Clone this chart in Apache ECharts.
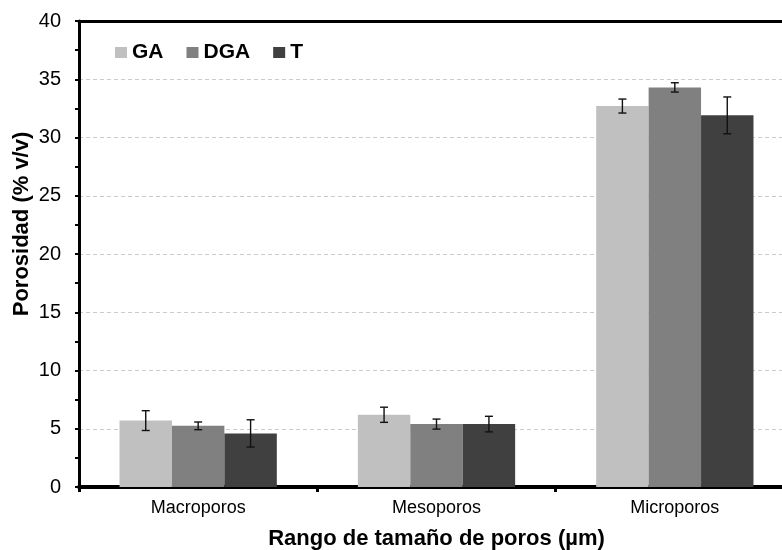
<!DOCTYPE html>
<html>
<head>
<meta charset="utf-8">
<script src="https://cdn.jsdelivr.net/npm/echarts@6/dist/echarts.min.js"></script>
<style>
  html, body { margin: 0; padding: 0; background: #fff; overflow: hidden; }
  #chart { width: 800px; height: 550px; }
</style>
</head>
<body>
<div id="chart"></div>
<script>
  // datos
  var categories = ['Macroporos', 'Mesoporos', 'Microporos'];
  var seriesNames = ['GA', 'DGA', 'T'];
  var gaValues = [5.7, 6.2, 32.7];
  var dgaValues = [5.25, 5.4, 34.3];
  var tValues = [4.6, 5.4, 31.9];
  var gaErrors = [0.85, 0.65, 0.6];
  var dgaErrors = [0.33, 0.43, 0.4];
  var tErrors = [1.17, 0.67, 1.58];
  var yTicks = [0, 5, 10, 15, 20, 25, 30, 35, 40];

  var colors = ['#c0c0c0', '#808080', '#404040'];
  var font = '"Liberation Sans", Arial, sans-serif';
  var allValues = [gaValues, dgaValues, tValues];
  var allErrors = [gaErrors, dgaErrors, tErrors];

  var chart = echarts.init(document.getElementById('chart'));

  function errorBarItem(params, api) {
    var cat = api.value(0), val = api.value(1), err = api.value(2), s = api.value(3);
    var cw = api.size([1, 0])[0];
    var bw = cw * 0.22;
    var x = api.coord([cat, val])[0] + (s - 1) * bw;
    var hi = api.coord([cat, val + err])[1];
    var lo = api.coord([cat, val - err])[1];
    var style = { stroke: '#111', lineWidth: 1.4 };
    return {
      type: 'group',
      children: [
        { type: 'line', shape: { x1: x, y1: hi, x2: x, y2: lo }, style: style },
        { type: 'line', shape: { x1: x - 4, y1: hi, x2: x + 4, y2: hi }, style: style },
        { type: 'line', shape: { x1: x - 4, y1: lo, x2: x + 4, y2: lo }, style: style }
      ]
    };
  }

  var series = [];
  seriesNames.forEach(function (name, s) {
    series.push({
      name: name,
      type: 'bar',
      barGap: '0%',
      barCategoryGap: '34%',
      itemStyle: { color: colors[s] },
      data: allValues[s]
    });
  });
  seriesNames.forEach(function (name, s) {
    series.push({
      name: name + ' error',
      type: 'custom',
      renderItem: errorBarItem,
      z: 5,
      data: categories.map(function (c, i) {
        return [i, allValues[s][i], allErrors[s][i], s];
      })
    });
  });

  chart.setOption({
    animation: false,
    textStyle: { fontFamily: font },
    grid: {
      left: 79, top: 21, right: 6, bottom: 63,
      containLabel: false, outerBoundsMode: 'none'
    },
    legend: {
      data: seriesNames,
      left: 115, top: 42,
      padding: 0,
      icon: 'rect',
      itemWidth: 12, itemHeight: 11, itemGap: 23,
      textStyle: { fontFamily: font, fontSize: 21, fontWeight: 'bold', color: '#000' }
    },
    xAxis: [{
      type: 'category',
      data: categories,
      name: 'Rango de tamaño de poros (µm)',
      nameLocation: 'middle',
      nameGap: 41,
      nameMoveOverlap: false,
      nameTextStyle: { fontFamily: font, fontSize: 22, fontWeight: 'bold', color: '#000' },
      axisLine: { lineStyle: { color: '#000', width: 4 } },
      axisTick: { show: true, length: 5, lineStyle: { color: '#000', width: 3 } },
      axisLabel: { fontFamily: font, fontSize: 18, color: '#000', margin: 12 }
    }, {
      // linea superior del marco
      type: 'category',
      data: categories,
      position: 'top',
      axisLine: { show: true, lineStyle: { color: '#000', width: 3 } },
      axisTick: { show: false },
      axisLabel: { show: false },
      splitLine: { show: false }
    }],
    yAxis: {
      type: 'value',
      min: yTicks[0], max: yTicks[yTicks.length - 1], interval: 5,
      name: 'Porosidad (% v/v)',
      nameLocation: 'middle',
      nameGap: 46,
      nameMoveOverlap: false,
      nameTextStyle: {
        fontFamily: font, fontSize: 22, fontWeight: 'bold', color: '#000',
        padding: [0, 0, 0, 60]
      },
      axisLine: { show: true, lineStyle: { color: '#000', width: 3 } },
      axisTick: { show: true, length: 4, lineStyle: { color: '#000', width: 2 } },
      minorTick: { show: true, splitNumber: 2, length: 4, lineStyle: { color: '#000', width: 2 } },
      axisLabel: { fontFamily: font, fontSize: 20, color: '#000', margin: 18 },
      splitLine: { show: true, lineStyle: { color: '#cccccc', type: [4, 3], width: 1 } }
    },
    series: series
  });
</script>
</body>
</html>
